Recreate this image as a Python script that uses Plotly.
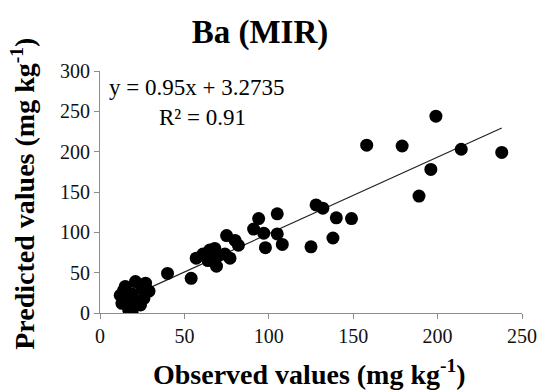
import plotly.graph_objects as go

# Observed vs predicted Ba concentrations (mg kg-1), MIR model
observed = [
    199, 158, 179, 214, 238, 196, 189, 140, 149, 138,
    128, 132, 105, 94, 91, 97, 105, 75, 80, 82, 98, 108, 125,
    57, 61, 65, 68, 70, 74, 77, 69, 64,
    40, 54,
    15, 21, 27, 12, 13, 17, 19, 26, 24, 19, 21, 16, 29, 25, 14,
]
predicted = [
    244, 208, 207, 203, 199, 178, 145, 118, 117, 93,
    134, 130, 123, 117, 104, 99, 98, 96, 90, 84, 81, 85, 82,
    68, 73, 78, 80, 71, 73, 68, 58, 65,
    49, 43,
    33, 39, 37, 22, 12, 4, 1, 18, 10, 24, 16, 16, 27, 30, 28,
]

# Linear fit reported on the chart
slope = 0.95
intercept = 3.2735
r_squared = 0.91

x_ticks = [0, 50, 100, 150, 200, 250]
y_ticks = [0, 50, 100, 150, 200, 250, 300]

serif = "Liberation Serif"

fit_x = [min(observed), max(observed)]
fit_y = [slope * v + intercept for v in fit_x]

fig = go.Figure()
fig.add_trace(go.Scatter(
    x=fit_x, y=fit_y, mode="lines",
    line=dict(color="#222222", width=1.2),
    showlegend=False, hoverinfo="skip",
))
fig.add_trace(go.Scatter(
    x=observed, y=predicted, mode="markers",
    marker=dict(color="black", size=13, line=dict(width=0)),
    showlegend=False,
))

axis_common = dict(
    showgrid=False, zeroline=False,
    showline=True, linecolor="#8c8c8c", linewidth=1,
    ticks="outside", ticklen=5, tickcolor="#8c8c8c", tickwidth=1,
    tickfont=dict(family=serif, size=20, color="#111111"),
)

fig.update_layout(
    width=549, height=391,
    margin=dict(l=100, r=23, t=71, b=78),
    paper_bgcolor="white", plot_bgcolor="white",
    font=dict(family=serif),
    xaxis=dict(range=[0, 250], tickvals=x_ticks, **axis_common),
    yaxis=dict(range=[0, 300], tickvals=y_ticks, **axis_common),
    title=dict(
        text="<b>Ba (MIR)</b>",
        font=dict(family=serif, size=33, color="black"),
        x=260 / 549, xanchor="center", xref="container",
        y=1 - 31 / 391, yanchor="middle", yref="container",
    ),
    annotations=[
        dict(
            text=f"y = {slope}x + {intercept}",
            xref="paper", yref="paper", x=7 / 426, y=(313 - 87) / 242,
            xanchor="left", yanchor="middle", showarrow=False,
            font=dict(family=serif, size=23, color="black"),
        ),
        dict(
            text=f"R² = {r_squared}",
            xref="paper", yref="paper", x=58 / 426, y=(313 - 117) / 242,
            xanchor="left", yanchor="middle", showarrow=False,
            font=dict(family=serif, size=23, color="black"),
        ),
        dict(
            text="<b>Observed values (mg kg<sup>-1</sup>)</b>",
            xref="paper", yref="paper", x=0.497, y=-(372 - 313) / 242,
            xanchor="center", yanchor="middle", showarrow=False,
            font=dict(family=serif, size=28, color="black"),
        ),
        dict(
            text="<b>Predicted values (mg kg<sup>-1</sup>)</b>",
            xref="paper", yref="paper", x=-(100 - 22) / 426, y=(313 - 194) / 242,
            xanchor="center", yanchor="middle", showarrow=False, textangle=-90,
            font=dict(family=serif, size=28, color="black"),
        ),
    ],
)

fig.write_html("out.html")
